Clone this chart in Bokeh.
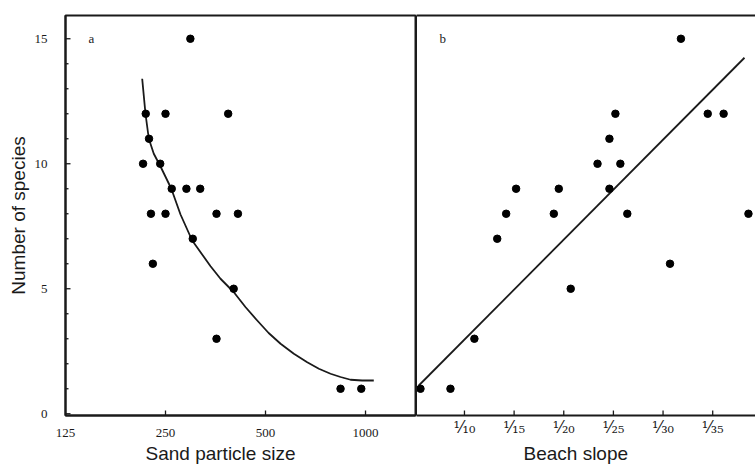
import math
from bokeh.plotting import figure
from bokeh.layouts import row
from bokeh.models import (FixedTicker, LinearAxis, Range1d, Label, Title, ColumnDataSource)
from bokeh.embed import file_html
from bokeh.resources import INLINE

# ---------------- data ----------------
sand_size = [297, 218, 250, 386, 223, 214, 241, 261, 289, 318, 226, 250, 356, 413, 302, 229, 401, 356, 841, 971]
sand_species = [15, 12, 12, 12, 11, 10, 10, 9, 9, 9, 8, 8, 8, 8, 7, 6, 5, 3, 1, 1]

curve_size = [212.7, 217.6, 222.7, 230.5, 241.5, 260.3, 277.4, 300.8, 341.6, 366, 401.5, 435,
              472.1, 511, 555, 608.5, 667.6, 723.8, 784.7, 841, 901.5, 977, 1059]
curve_species = [13.4, 12.0, 11.0, 10.4, 9.89, 9.0, 7.97, 6.93, 5.9, 5.4, 4.86, 4.27,
                 3.73, 3.23, 2.8, 2.4, 2.06, 1.8, 1.6, 1.47, 1.36, 1.33, 1.33]

slope_denom = [5.57, 8.59, 11.0, 13.3, 14.2, 15.2, 19.0, 19.5, 20.7, 23.4, 24.6, 25.2, 24.6, 25.7, 26.4, 30.7, 31.8, 34.5, 36.1, 38.6]
slope_species = [1, 1, 3, 7, 8, 9, 8, 9, 5, 10, 11, 12, 9, 10, 8, 6, 15, 12, 12, 8]

fit_denom = [5.4, 38.2]
fit_species = [1.13, 14.24]

y_ticks = [0, 5, 10, 15]
y_minor_ticks = [1, 2, 3, 4, 6, 7, 8, 9, 11, 12, 13, 14]
size_ticks = [125, 250, 500, 1000]
size_tick_labels = ["125", "250", "500", "1000"]
slope_ticks = [10, 15, 20, 25, 30, 35]
slope_tick_labels = ["¹⁄₁₀", "¹⁄₁₅", "¹⁄₂₀", "¹⁄₂₅", "¹⁄₃₀", "¹⁄₃₅"]

y_title = "Number of species"
xa_title = "Sand particle size"
xb_title = "Beach slope"
panel_a = ("a", 149.6, 15)
panel_b = ("b", 7.82, 15.02)

# ---------------- geometry / styling ----------------
INK = "#1a1a1a"
TICK_FONT = "Liberation Serif"
TITLE_FONT = "Liberation Sans"
FRAME_W_A, FRAME_H = 350, 400
MAJOR_TICK, MINOR_TICK = 5, 3

y_range_a = Range1d(-0.07, 15.93)
x_range_a = Range1d(125, 1414)
x_range_b = Range1d(5.17, 39.31)

px_per_y = FRAME_H / (y_range_a.end - y_range_a.start)
px_per_log2 = FRAME_W_A / math.log2(x_range_a.end / x_range_a.start)


def style_xaxis(ax, ticks, labels, font, size, standoff):
    ax.ticker = FixedTicker(ticks=ticks, minor_ticks=[])
    ax.major_label_overrides = {t: l for t, l in zip(ticks, labels)}
    ax.major_tick_in = 0
    ax.major_tick_out = 0
    ax.minor_tick_in = 0
    ax.minor_tick_out = 0
    ax.axis_line_width = 2
    ax.axis_line_color = INK
    ax.major_label_text_font = font
    ax.major_label_text_font_size = size
    ax.major_label_text_color = INK
    ax.major_label_standoff = standoff


def add_xtitle(p, text, offset):
    p.add_layout(Title(text=text, align="left", offset=offset, standoff=3,
                       text_font=TITLE_FONT, text_font_size="19px",
                       text_font_style="normal", text_color=INK), "below")


def add_ticks(p, xs0, ys0, xs1, ys1):
    src = ColumnDataSource(dict(x0=xs0, y0=ys0, x1=xs1, y1=ys1))
    r = p.segment("x0", "y0", "x1", "y1", source=src, line_color=INK, line_width=1.3)
    r.level = "overlay"
    return r


# ---------------- panel a ----------------
pa = figure(width=416, height=468, x_axis_type="log",
            x_range=x_range_a, y_range=y_range_a,
            output_backend="svg", toolbar_location=None,
            min_border_left=65, min_border_right=1, min_border_top=15, min_border_bottom=53)
pa.grid.visible = False
pa.outline_line_color = INK
pa.outline_line_width = 2
pa.background_fill_color = "white"

src_a = ColumnDataSource(dict(x=sand_size, y=sand_species))
src_ca = ColumnDataSource(dict(x=curve_size, y=curve_species))
pa.line("x", "y", source=src_ca, line_color=INK, line_width=1.8, line_join="round")
pa.scatter("x", "y", source=src_a, size=7.5, color="black")

style_xaxis(pa.xaxis[0], size_ticks, size_tick_labels, TICK_FONT, "13px", 13)
add_xtitle(pa, xa_title, 80)

# inward tick marks
xa0 = x_range_a.start
ya0 = y_range_a.start
add_ticks(pa, [xa0] * len(y_ticks), y_ticks,
          [xa0 * 2 ** (MAJOR_TICK / px_per_log2)] * len(y_ticks), y_ticks)
add_ticks(pa, [xa0] * len(y_minor_ticks), y_minor_ticks,
          [xa0 * 2 ** (MINOR_TICK / px_per_log2)] * len(y_minor_ticks), y_minor_ticks)
add_ticks(pa, size_ticks[1:], [ya0] * 3, size_ticks[1:], [ya0 + MAJOR_TICK / px_per_y] * 3)

ya = pa.yaxis[0]
ya.ticker = FixedTicker(ticks=y_ticks, minor_ticks=[])
ya.major_tick_in = 0
ya.major_tick_out = 0
ya.minor_tick_in = 0
ya.minor_tick_out = 0
ya.axis_line_width = 2
ya.axis_line_color = INK
ya.major_label_text_font = TICK_FONT
ya.major_label_text_font_size = "13px"
ya.major_label_text_color = INK
ya.major_label_standoff = 18
ya.axis_label = y_title
ya.axis_label_text_font = TITLE_FONT
ya.axis_label_text_font_size = "19px"
ya.axis_label_text_font_style = "normal"
ya.axis_label_text_color = INK
ya.axis_label_standoff = 3

pa.add_layout(Label(x=panel_a[1], y=panel_a[2], text=panel_a[0], text_font=TICK_FONT,
                    text_font_size="13px", text_color=INK, text_align="center",
                    text_baseline="middle"))

# ---------------- panel b ----------------
pb = figure(width=339, height=468, x_range=x_range_b, y_range=y_range_a,
            output_backend="svg", toolbar_location=None,
            min_border_left=0, min_border_right=0, min_border_top=15, min_border_bottom=53)
pb.grid.visible = False
pb.outline_line_color = None
pb.background_fill_color = "white"

src_b = ColumnDataSource(dict(x=slope_denom, y=slope_species))
src_fb = ColumnDataSource(dict(x=fit_denom, y=fit_species))
pb.line("x", "y", source=src_fb, line_color=INK, line_width=1.8)
pb.scatter("x", "y", source=src_b, size=7.5, color="black")

style_xaxis(pb.xaxis[0], slope_ticks, slope_tick_labels, "DejaVu Serif", "16px", 2)
add_xtitle(pb, xb_title, 107)
add_ticks(pb, slope_ticks, [ya0] * len(slope_ticks), slope_ticks,
          [ya0 + MAJOR_TICK / px_per_y] * len(slope_ticks))

yb = pb.yaxis[0]
yb.ticker = FixedTicker(ticks=[], minor_ticks=[])
yb.major_tick_in = 0
yb.major_tick_out = 0
yb.minor_tick_in = 0
yb.minor_tick_out = 0
yb.major_label_standoff = 0
yb.axis_line_width = 1
yb.axis_line_color = INK

top_b = LinearAxis(ticker=FixedTicker(ticks=[], minor_ticks=[]), major_tick_in=0, major_tick_out=0,
                   minor_tick_in=0, minor_tick_out=0, major_label_standoff=0,
                   axis_line_width=2, axis_line_color=INK)
pb.add_layout(top_b, "above")

pb.add_layout(Label(x=panel_b[1], y=panel_b[2], text=panel_b[0], text_font=TICK_FONT,
                    text_font_size="13px", text_color=INK, text_align="center",
                    text_baseline="middle"))

layout = row(pa, pb)
open("out.html", "w").write(file_html(layout, INLINE))
